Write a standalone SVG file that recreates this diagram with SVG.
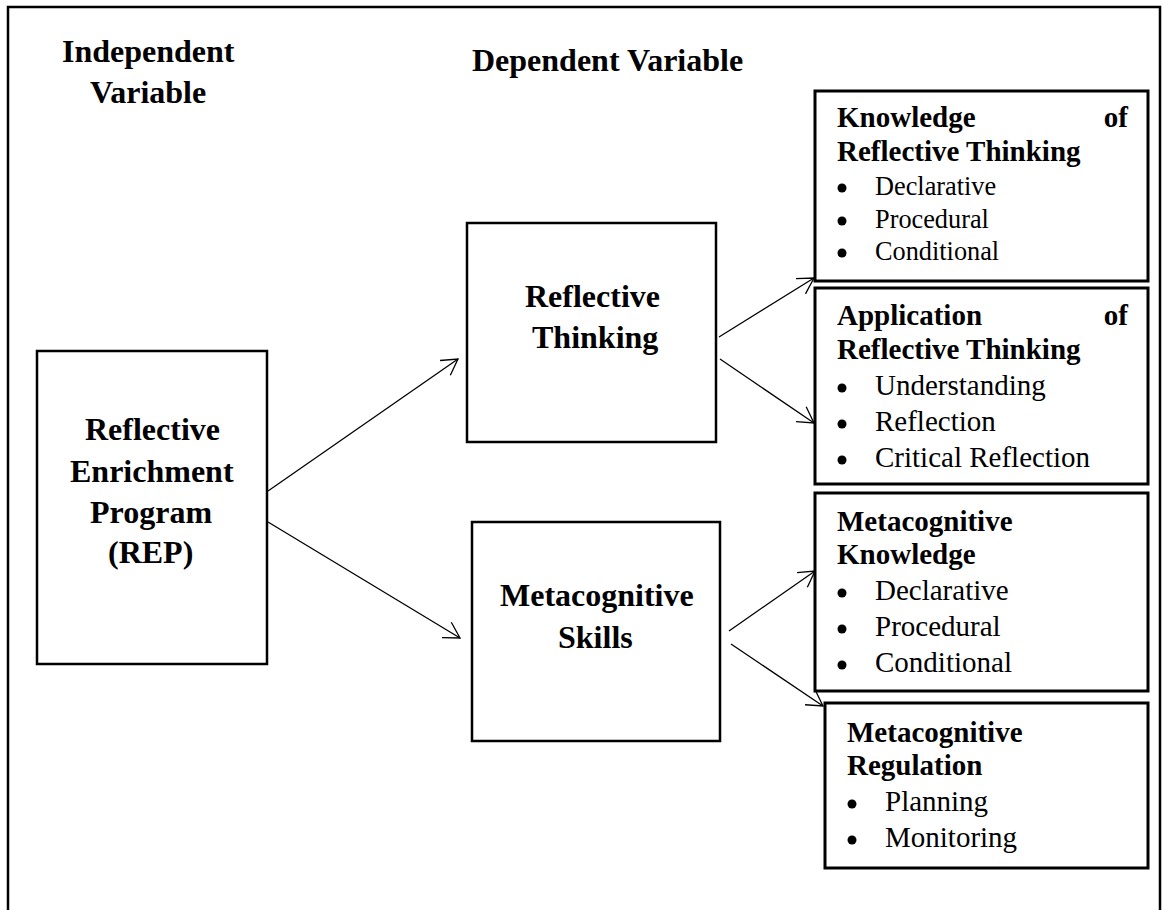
<svg xmlns="http://www.w3.org/2000/svg" width="1163" height="910" viewBox="0 0 1163 910">
<style>
.box{fill:#fff;stroke:#000;stroke-width:2.5}
.rbox{fill:#fff;stroke:#000;stroke-width:3}
text{font-family:'Liberation Serif','Times New Roman',Times,serif;fill:#000}
.h{font-weight:bold;font-size:32px}
.hb{font-weight:bold;font-size:29px}
.it{font-weight:normal;font-size:29px}
.its{font-weight:normal;font-size:26.3px}
.conn{stroke:#000;stroke-width:1.3;fill:none;marker-end:url(#arr)}
</style>
<defs>
<marker id="arr" markerUnits="userSpaceOnUse" markerWidth="24" markerHeight="24" viewBox="-18 -12 20 24" refX="0" refY="0" orient="auto">
<path d="M-15.6,-9 L0,0 L-15.6,9" fill="none" stroke="#000" stroke-width="1.3"/>
</marker>
</defs>
<rect width="1163" height="910" fill="#fff"/>
<path d="M8,910 V7 H1160 V910" fill="none" stroke="#000" stroke-width="2.5"/>
<g id="headers">
<text class="h" x="62" y="62">Independent</text>
<text class="h" x="90" y="103">Variable</text>
<text class="h" x="472" y="71">Dependent Variable</text>
</g>
<g id="connectors">
<line class="conn" x1="268" y1="491" x2="458" y2="359"/>
<line class="conn" x1="268" y1="522" x2="460" y2="638"/>
<line class="conn" x1="719" y1="337" x2="814" y2="278"/>
<line class="conn" x1="720" y1="359" x2="814" y2="423"/>
<line class="conn" x1="729" y1="631" x2="815" y2="571"/>
<line class="conn" x1="731" y1="644" x2="823" y2="706"/>
</g>
<g id="rep">
<rect class="box" x="37" y="351" width="230" height="313"/>
<text class="h" x="85" y="440">Reflective</text>
<text class="h" x="70" y="482">Enrichment</text>
<text class="h" x="90" y="523">Program</text>
<text class="h" x="108" y="563">(REP)</text>
</g>
<g id="reflective-thinking">
<rect class="box" x="467" y="223" width="249" height="219"/>
<text class="h" x="525" y="307">Reflective</text>
<text class="h" x="532" y="348">Thinking</text>
</g>
<g id="metacognitive-skills">
<rect class="box" x="472" y="522" width="248" height="219"/>
<text class="h" x="500" y="606">Metacognitive</text>
<text class="h" x="558" y="648">Skills</text>
</g>
<g id="knowledge-rt">
<rect class="rbox" x="815" y="91" width="333" height="190"/>
<text class="hb" x="837" y="127">Knowledge</text>
<text class="hb" x="1128" y="127" text-anchor="end">of</text>
<text class="hb" x="837" y="161">Reflective Thinking</text>
<circle cx="842" cy="188" r="4.5"/><text class="its" x="875" y="195">Declarative</text>
<circle cx="842" cy="221" r="4.5"/><text class="its" x="875" y="228">Procedural</text>
<circle cx="842" cy="253" r="4.5"/><text class="its" x="875" y="260">Conditional</text>
</g>
<g id="application-rt">
<rect class="rbox" x="815" y="288" width="333" height="196"/>
<text class="hb" x="837" y="325">Application</text>
<text class="hb" x="1128" y="325" text-anchor="end">of</text>
<text class="hb" x="837" y="359">Reflective Thinking</text>
<circle cx="842" cy="388" r="4.5"/><text class="it" x="875" y="395">Understanding</text>
<circle cx="842" cy="424" r="4.5"/><text class="it" x="875" y="431">Reflection</text>
<circle cx="842" cy="460" r="4.5"/><text class="it" x="875" y="467">Critical Reflection</text>
</g>
<g id="metacognitive-knowledge">
<rect class="rbox" x="815" y="493" width="333" height="198"/>
<text class="hb" x="837" y="531">Metacognitive</text>
<text class="hb" x="837" y="564">Knowledge</text>
<circle cx="842" cy="593" r="4.5"/><text class="it" x="875" y="600">Declarative</text>
<circle cx="842" cy="629" r="4.5"/><text class="it" x="875" y="636">Procedural</text>
<circle cx="842" cy="665" r="4.5"/><text class="it" x="875" y="672">Conditional</text>
</g>
<g id="metacognitive-regulation">
<rect class="rbox" x="825" y="703" width="323" height="165"/>
<text class="hb" x="847" y="742">Metacognitive</text>
<text class="hb" x="847" y="775">Regulation</text>
<circle cx="852" cy="804" r="4.5"/><text class="it" x="885" y="811">Planning</text>
<circle cx="852" cy="840" r="4.5"/><text class="it" x="885" y="847">Monitoring</text>
</g>
</svg>
